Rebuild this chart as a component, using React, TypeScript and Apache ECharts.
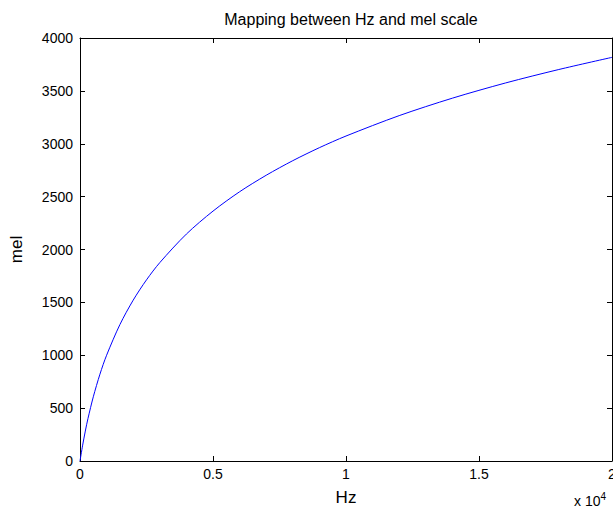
import React, { useEffect, useRef } from "react";
import * as echarts from "echarts";

const hz = [0, 100, 200, 300, 500, 750, 1000, 1500, 2000, 2500, 3000, 4000, 5000, 6000, 7000, 8000, 9000, 10000, 12000, 14000, 16000, 18000, 20000];
const mel = [0, 150, 283, 402, 607, 821, 1000, 1290, 1521, 1713, 1876, 2146, 2363, 2546, 2702, 2840, 2963, 3073, 3266, 3431, 3575, 3702, 3817];
const xTicks = [0, 5000, 10000, 15000, 20000];
const titleText = "Mapping between Hz and mel scale";

export default function App() {
  const ref = useRef<HTMLDivElement>(null);
  useEffect(() => {
    if (!ref.current) return;
    const chart = echarts.init(ref.current, null, { renderer: "svg" });
    const font = "Liberation Sans, Arial, Helvetica, sans-serif";
    const axisCommon = {
      axisLine: { show: true, onZero: false, lineStyle: { color: "#000", width: 1 } },
      axisTick: { show: true, inside: true, length: 5, lineStyle: { color: "#000" } },
      splitLine: { show: false },
    };
    chart.setOption({
      animation: false,
      backgroundColor: "#fff",
      title: {
        text: titleText,
        left: 346,
        textAlign: "center",
        top: 6,
        textStyle: { fontFamily: font, fontSize: 16, fontWeight: "normal", color: "#000" },
      },
      grid: { left: 80, right: 1, top: 38, bottom: 48, containLabel: false, outerBoundsMode: "none" },
      xAxis: [
        {
          type: "value",
          min: xTicks[0],
          max: xTicks[xTicks.length - 1],
          interval: 5000,
          name: "Hz",
          nameLocation: "middle",
          nameGap: 28,
          nameTextStyle: { fontFamily: font, fontSize: 17, color: "#000" },
          axisLabel: {
            fontFamily: font,
            fontSize: 14,
            color: "#000",
            margin: 6,
            showMaxLabel: true,
            formatter: (v: number) => String(v / 10000),
          },
          ...axisCommon,
        },
        {
          type: "value",
          position: "top",
          min: xTicks[0],
          max: xTicks[xTicks.length - 1],
          interval: 5000,
          axisLabel: { show: false },
          ...axisCommon,
        },
      ],
      yAxis: [
        {
          type: "value",
          min: 0,
          max: 4000,
          interval: 500,
          name: "mel",
          nameLocation: "middle",
          nameGap: 55,
          nameTextStyle: { fontFamily: font, fontSize: 17, color: "#000" },
          axisLabel: { fontFamily: font, fontSize: 14, color: "#000", margin: 7, formatter: (v: number) => String(v) },
          ...axisCommon,
        },
        {
          type: "value",
          position: "right",
          min: 0,
          max: 4000,
          interval: 500,
          axisLabel: { show: false },
          ...axisCommon,
        },
      ],
      series: [
        {
          type: "line",
          data: hz.map((h, i) => [h, mel[i]]),
          smooth: 0.3,
          showSymbol: false,
          lineStyle: { color: "#0000ff", width: 1 },
          xAxisIndex: 0,
          yAxisIndex: 0,
        },
      ],
      graphic: [
        {
          type: "text",
          left: 574,
          top: 491,
          style: {
            text: "x 10{s|4}",
            rich: { s: { fontSize: 10, fontFamily: font, verticalAlign: "top", padding: [0, 0, 10, 0] } },
            fontFamily: font,
            fontSize: 14,
            fill: "#000",
          },
        },
      ],
    });
    return () => chart.dispose();
  }, []);
  return <div ref={ref} style={{ width: 613, height: 509, position: "absolute", left: 0, top: 0 }} />;
}
